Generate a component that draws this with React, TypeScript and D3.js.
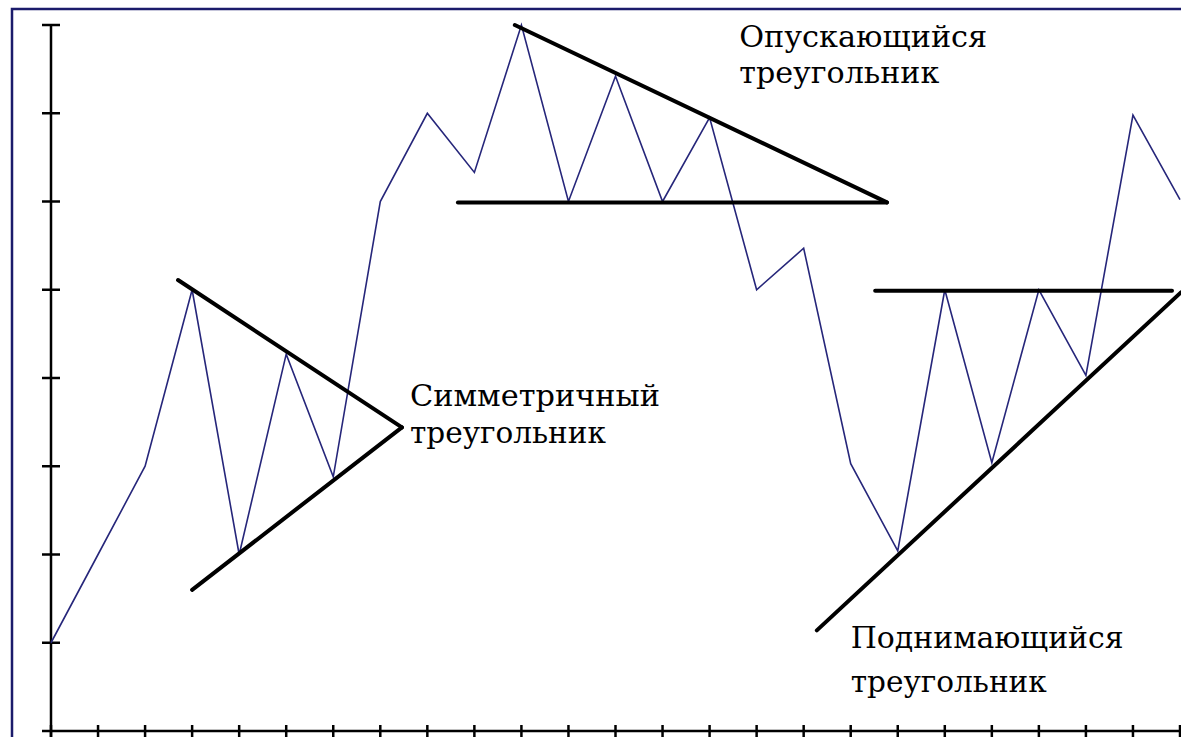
import React from "react";
import * as d3 from "d3";

// Price path: one value per step along the horizontal axis
const steps = d3.range(0, 25);
const prices = [1, 2, 3, 5, 2, 4.27, 2.88, 6, 7, 6.33, 8, 6, 7.42, 6, 6.95, 5, 5.47, 3.03, 2.04, 5, 3.04, 5, 4.03, 6.98, 6.02];

// Vertical ticks (value units) and horizontal ticks (step units)
const yTicks = [1, 2, 3, 4, 5, 6, 7, 8];
const xTicks = steps;

// Trend lines as [step, value] endpoint pairs
const symTop = [[2.7, 5.11], [7.46, 3.44]];
const symBottom = [[3.0, 1.6], [7.46, 3.44]];
const descTop = [[9.86, 8.0], [17.77, 5.99]];
const descFloor = [[8.65, 5.99], [17.77, 5.99]];
const ascCeiling = [[17.52, 4.99], [23.83, 4.99]];
const ascRise = [[16.28, 1.14], [24.02, 4.97]];
const trendLines = [symTop, symBottom, descTop, descFloor, ascCeiling, ascRise];

// Pattern captions: [step, value] anchor, lines of text, width of each line
const captions = [
  { at: [7.63, 3.68], lines: ["Симметричный", "треугольник"], widths: [250, 196], gap: 37 },
  { at: [14.63, 7.75], lines: ["Опускающийся", "треугольник"], widths: [248, 200], gap: 36 },
  { at: [17.0, 0.94], lines: ["Поднимающийся", "треугольник"], widths: [273, 196], gap: 44 },
];

const W = 1181;
const H = 737;

export default function App() {
  const x = d3.scaleLinear().domain([0, 24]).range([51, 1180]);
  const y = d3.scaleLinear().domain([0, 8]).range([731, 25]);

  const pricePath = d3
    .line<number>()
    .x((_, i) => x(steps[i]))
    .y((d) => y(d))(prices);

  const seg = d3
    .line<number[]>()
    .x((d) => x(d[0]))
    .y((d) => y(d[1]));

  return (
    <svg
      width={W}
      height={H}
      style={{ position: "absolute", left: 0, top: 0, background: "#ffffff" }}
    >
      {/* window frame */}
      <rect x={12} y={9} width={W + 20} height={H + 20} fill="#ffffff" stroke="#1b1b6b" strokeWidth={2.5} />

      {/* vertical axis */}
      <line x1={x(0)} x2={x(0)} y1={y(8)} y2={H + 2} stroke="#000" strokeWidth={2.5} />
      {yTicks.map((t) => (
        <line key={"yt" + t} x1={x(0) - 9} x2={x(0) + 9} y1={y(t)} y2={y(t)} stroke="#000" strokeWidth={2.5} />
      ))}

      {/* horizontal axis */}
      <line x1={x(0) - 9} x2={W + 2} y1={y(0)} y2={y(0)} stroke="#000" strokeWidth={2.5} />
      {xTicks.map((t) => (
        <line key={"xt" + t} x1={x(t)} x2={x(t)} y1={y(0) - 6} y2={H + 4} stroke="#000" strokeWidth={2.5} />
      ))}

      {/* price path */}
      <path d={pricePath || ""} fill="none" stroke="#26267a" strokeWidth={1.6} strokeLinejoin="miter" />

      {/* triangle boundaries */}
      {trendLines.map((l, i) => (
        <path key={"tl" + i} d={seg(l) || ""} fill="none" stroke="#000" strokeWidth={4} strokeLinecap="round" />
      ))}

      {/* captions */}
      {captions.map((c, i) => (
        <text
          key={"cap" + i}
          fontFamily="'DejaVu Serif', 'Liberation Serif', serif"
          fontSize={29}
          fill="#000"
        >
          {c.lines.map((s, j) => (
            <tspan
              key={j}
              x={x(c.at[0])}
              y={y(c.at[1]) + j * c.gap}
              textLength={c.widths[j]}
              lengthAdjust="spacingAndGlyphs"
            >
              {s}
            </tspan>
          ))}
        </text>
      ))}
    </svg>
  );
}
